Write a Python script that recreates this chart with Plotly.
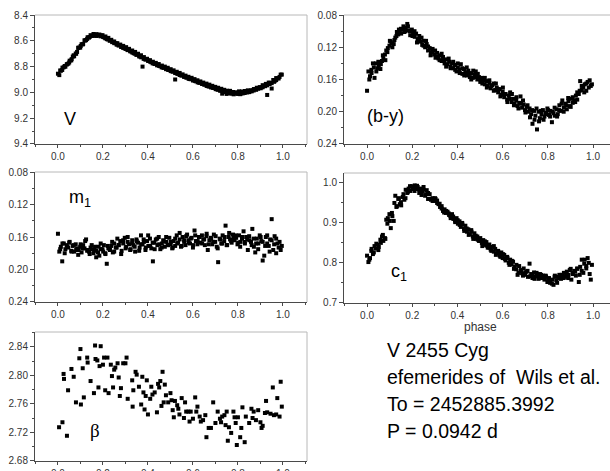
import plotly.graph_objects as go

# ---------------- data ----------------
phase = [0.000,0.006,0.013,0.019,0.026,0.033,0.039,0.046,0.052,0.059,
         0.066,0.072,0.079,0.085,0.092,0.099,0.105,0.112,0.118,0.125,
         0.132,0.138,0.145,0.151,0.158,0.165,0.171,0.178,0.184,0.191,
         0.198,0.204,0.211,0.217,0.224,0.231,0.237,0.244,0.250,0.257,
         0.264,0.270,0.277,0.283,0.290,0.297,0.303,0.310,0.316,0.323,
         0.330,0.336,0.343,0.349,0.356,0.363,0.369,0.376,0.382,0.389,
         0.396,0.402,0.409,0.415,0.422,0.429,0.435,0.442,0.448,0.455,
         0.462,0.468,0.475,0.481,0.488,0.495,0.501,0.508,0.514,0.521,
         0.528,0.534,0.541,0.547,0.554,0.561,0.567,0.574,0.580,0.587,
         0.594,0.600,0.607,0.613,0.620,0.627,0.633,0.640,0.646,0.653,
         0.660,0.666,0.673,0.679,0.686,0.693,0.699,0.706,0.712,0.719,
         0.726,0.732,0.739,0.745,0.752,0.759,0.765,0.772,0.778,0.785,
         0.792,0.798,0.805,0.811,0.818,0.825,0.831,0.838,0.844,0.851,
         0.858,0.864,0.871,0.877,0.884,0.891,0.897,0.904,0.910,0.917,
         0.924,0.930,0.937,0.943,0.950,0.957,0.963,0.970,0.976,0.990]

phase2 = [0.010,0.020,0.030,0.041,0.050,0.061,0.070,0.081,0.090,0.101,
          0.110,0.121,0.130,0.141,0.150,0.161,0.170,0.181,0.190,0.201,
          0.210,0.221,0.230,0.241,0.250,0.261,0.270,0.281,0.290,0.301,
          0.310,0.321,0.330,0.341,0.350,0.361,0.370,0.381,0.390,0.401,
          0.410,0.421,0.430,0.441,0.450,0.461,0.470,0.481,0.490,0.501,
          0.510,0.521,0.530,0.541,0.550,0.561,0.570,0.581,0.590,0.601,
          0.610,0.621,0.630,0.641,0.650,0.661,0.670,0.681,0.690,0.701,
          0.710,0.721,0.730,0.741,0.750,0.761,0.770,0.781,0.790,0.801,
          0.810,0.821,0.830,0.841,0.850,0.861,0.870,0.881,0.890,0.901,
          0.910,0.921,0.930,0.941,0.950,0.961,0.970,0.981,0.985,0.995]

V_mag = [8.855,8.866,8.832,8.826,8.805,8.801,8.784,8.777,8.754,8.752,
         8.722,8.720,8.699,8.686,8.652,8.653,8.626,8.624,8.596,8.594,
         8.572,8.575,8.556,8.562,8.547,8.556,8.548,8.557,8.551,8.559,
         8.556,8.572,8.566,8.586,8.577,8.598,8.592,8.608,8.605,8.619,
         8.618,8.634,8.629,8.647,8.639,8.658,8.649,8.670,8.662,8.682,
         8.675,8.695,8.686,8.708,8.700,8.721,8.712,8.800,8.726,8.744,
         8.739,8.754,8.750,8.766,8.762,8.776,8.771,8.788,8.780,8.797,
         8.792,8.806,8.800,8.818,8.809,8.826,8.820,8.835,8.829,8.900,
         8.840,8.856,8.849,8.867,8.860,8.876,8.870,8.885,8.879,8.896,
         8.887,8.905,8.897,8.914,8.906,8.923,8.915,8.931,8.924,8.939,
         8.932,8.949,8.940,8.958,8.949,8.965,8.957,8.974,8.964,8.981,
         8.972,8.990,8.980,8.996,8.987,9.002,8.988,9.006,8.997,9.006,
         8.999,9.008,8.992,9.010,8.993,9.002,8.989,8.998,8.984,8.993,
         8.984,8.984,8.974,8.974,8.964,8.966,8.959,8.961,8.944,8.950,
         8.934,9.020,8.924,8.926,8.970,8.904,8.911,8.889,8.891,8.862]

V_mag2 = [8.830,8.808,8.795,8.780,8.768,8.742,8.712,8.700,8.655,8.640,
          8.628,8.598,8.585,8.570,8.562,8.560,8.562,8.560,8.565,8.570,
          8.580,8.590,8.598,8.610,8.618,8.630,8.636,8.648,8.655,8.663,
          8.672,8.680,8.690,8.700,8.708,8.720,8.728,8.740,8.745,8.756,
          8.762,8.775,8.780,8.790,8.795,8.806,8.810,8.820,8.826,8.835,
          8.840,8.850,8.855,8.865,8.870,8.880,8.885,8.895,8.898,8.908,
          8.912,8.922,8.926,8.935,8.940,8.950,8.955,8.962,8.966,8.975,
          8.980,8.988,9.010,8.998,9.012,9.005,9.010,9.015,9.008,9.012,
          9.014,9.008,9.005,9.000,8.998,8.992,8.985,8.980,8.972,8.968,
          8.960,8.952,8.945,8.935,8.928,8.918,8.905,8.892,8.880,8.862]

b_y = [0.174,0.150,0.156,0.148,0.140,0.158,0.140,0.146,0.142,0.147,
       0.137,0.134,0.129,0.124,0.121,0.118,0.113,0.120,0.116,0.108,
       0.101,0.104,0.100,0.103,0.098,0.101,0.096,0.091,0.099,0.105,
       0.098,0.102,0.107,0.103,0.110,0.106,0.113,0.117,0.112,0.120,
       0.116,0.124,0.121,0.126,0.122,0.129,0.133,0.127,0.134,0.130,
       0.137,0.132,0.140,0.135,0.141,0.138,0.144,0.140,0.146,0.142,
       0.150,0.145,0.148,0.141,0.153,0.147,0.151,0.155,0.149,0.157,
       0.152,0.158,0.154,0.150,0.160,0.157,0.163,0.158,0.161,0.166,
       0.162,0.168,0.164,0.171,0.167,0.165,0.173,0.170,0.176,0.172,
       0.179,0.175,0.182,0.178,0.185,0.180,0.176,0.188,0.184,0.190,
       0.186,0.193,0.189,0.181,0.195,0.191,0.198,0.194,0.200,0.196,
       0.203,0.215,0.199,0.205,0.222,0.200,0.208,0.203,0.198,0.206,
       0.201,0.196,0.204,0.199,0.213,0.202,0.205,0.197,0.203,0.192,
       0.199,0.186,0.195,0.190,0.197,0.187,0.193,0.184,0.189,0.186,
       0.180,0.185,0.178,0.162,0.173,0.170,0.166,0.174,0.163,0.168]

b_y2 = [0.160,0.152,0.145,0.150,0.138,0.141,0.130,0.136,0.126,0.112,
        0.115,0.111,0.106,0.098,0.097,0.094,0.100,0.094,0.100,0.106,
        0.100,0.114,0.110,0.108,0.118,0.112,0.119,0.130,0.125,0.124,
        0.132,0.136,0.128,0.136,0.144,0.134,0.146,0.138,0.148,0.140,
        0.152,0.146,0.155,0.145,0.153,0.160,0.149,0.157,0.153,0.159,
        0.165,0.158,0.170,0.161,0.168,0.174,0.165,0.172,0.181,0.170,
        0.178,0.188,0.184,0.178,0.192,0.182,0.196,0.190,0.186,0.201,
        0.192,0.207,0.198,0.210,0.196,0.212,0.199,0.210,0.203,0.198,
        0.206,0.200,0.195,0.206,0.198,0.190,0.200,0.192,0.183,0.194,
        0.182,0.188,0.176,0.174,0.168,0.176,0.165,0.170,0.161,0.166]

m_1 = [0.156,0.178,0.172,0.190,0.168,0.175,0.170,0.173,0.166,0.177,
       0.171,0.178,0.169,0.174,0.176,0.172,0.179,0.170,0.174,0.163,
       0.176,0.178,0.173,0.175,0.180,0.172,0.177,0.179,0.183,0.175,
       0.175,0.170,0.181,0.193,0.174,0.176,0.171,0.179,0.168,0.173,
       0.162,0.170,0.165,0.177,0.168,0.161,0.172,0.166,0.169,0.175,
       0.164,0.170,0.178,0.163,0.167,0.173,0.158,0.169,0.166,0.176,
       0.165,0.171,0.162,0.174,0.190,0.167,0.163,0.170,0.160,0.175,
       0.168,0.164,0.172,0.166,0.170,0.161,0.169,0.174,0.165,0.171,
       0.158,0.167,0.163,0.172,0.160,0.166,0.170,0.157,0.164,0.168,
       0.161,0.173,0.152,0.165,0.169,0.160,0.167,0.158,0.163,0.170,
       0.159,0.176,0.164,0.161,0.169,0.157,0.166,0.172,0.191,0.162,
       0.168,0.158,0.165,0.146,0.170,0.160,0.163,0.167,0.157,0.164,
       0.161,0.169,0.158,0.166,0.162,0.153,0.168,0.160,0.176,0.164,
       0.166,0.150,0.172,0.179,0.162,0.168,0.158,0.165,0.189,0.183,
       0.160,0.168,0.171,0.163,0.138,0.176,0.159,0.180,0.168,0.176]

m_12 = [0.175,0.168,0.180,0.172,0.167,0.178,0.170,0.176,0.182,0.169,
        0.174,0.165,0.177,0.181,0.170,0.176,0.185,0.172,0.168,0.178,
        0.180,0.171,0.175,0.166,0.178,0.173,0.170,0.181,0.164,0.174,
        0.160,0.176,0.168,0.172,0.165,0.177,0.169,0.163,0.173,0.158,
        0.171,0.167,0.175,0.162,0.169,0.173,0.165,0.160,0.170,0.166,
        0.173,0.162,0.168,0.155,0.171,0.164,0.159,0.167,0.162,0.170,
        0.158,0.165,0.160,0.168,0.163,0.156,0.169,0.162,0.166,0.159,
        0.174,0.163,0.168,0.160,0.170,0.155,0.165,0.161,0.158,0.167,
        0.172,0.160,0.166,0.163,0.159,0.170,0.162,0.168,0.175,0.160,
        0.166,0.171,0.158,0.178,0.164,0.169,0.162,0.173,0.166,0.171]

c_1 = [0.818,0.802,0.812,0.830,0.822,0.842,0.836,0.846,0.840,0.858,
       0.866,0.855,0.862,0.908,0.912,0.922,0.887,0.917,0.905,0.968,
       0.942,0.960,0.947,0.944,0.965,0.958,0.983,0.975,0.986,0.980,
       0.992,0.988,0.994,0.985,0.990,0.975,0.986,0.978,0.990,0.968,
       0.982,0.960,0.972,0.958,0.962,0.955,0.960,0.950,0.947,0.940,
       0.936,0.930,0.934,0.925,0.928,0.920,0.917,0.922,0.910,0.906,
       0.912,0.898,0.904,0.890,0.896,0.885,0.893,0.878,0.884,0.872,
       0.878,0.866,0.874,0.860,0.866,0.855,0.862,0.850,0.857,0.845,
       0.852,0.838,0.846,0.833,0.840,0.828,0.835,0.824,0.830,0.818,
       0.826,0.812,0.820,0.806,0.815,0.800,0.808,0.796,0.803,0.790,
       0.784,0.770,0.792,0.780,0.774,0.786,0.770,0.778,0.765,0.798,
       0.772,0.762,0.776,0.766,0.770,0.760,0.772,0.762,0.768,0.758,
       0.766,0.752,0.762,0.755,0.748,0.745,0.768,0.756,0.765,0.770,
       0.760,0.768,0.775,0.765,0.778,0.770,0.782,0.758,0.775,0.780,
       0.768,0.785,0.752,0.790,0.808,0.775,0.808,0.792,0.812,0.758]

c_12 = [0.808,0.835,0.826,0.848,0.832,0.850,0.870,0.860,0.898,0.905,
        0.925,0.950,0.940,0.962,0.952,0.972,0.962,0.978,0.992,0.985,
        0.980,0.993,0.984,0.970,0.983,0.972,0.975,0.960,0.955,0.962,
        0.956,0.948,0.942,0.926,0.930,0.924,0.912,0.916,0.902,0.907,
        0.895,0.900,0.880,0.886,0.870,0.882,0.860,0.868,0.858,0.855,
        0.842,0.854,0.843,0.838,0.830,0.842,0.820,0.826,0.815,0.822,
        0.810,0.812,0.795,0.805,0.785,0.795,0.775,0.782,0.768,0.776,
        0.780,0.766,0.770,0.760,0.775,0.765,0.770,0.762,0.768,0.760,
        0.750,0.758,0.765,0.750,0.762,0.770,0.762,0.770,0.762,0.785,
        0.772,0.778,0.786,0.770,0.780,0.798,0.786,0.800,0.772,0.795]

beta_phase = [0.005,0.020,0.025,0.027,0.040,0.045,0.060,0.070,0.080,0.095,
              0.100,0.102,0.110,0.115,0.130,0.132,0.145,0.160,0.165,0.167,
              0.175,0.180,0.185,0.190,0.200,0.205,0.210,0.220,0.225,0.235,
              0.240,0.245,0.250,0.255,0.265,0.270,0.275,0.280,0.290,0.300,
              0.305,0.310,0.330,0.332,0.335,0.345,0.350,0.360,0.370,0.375,
              0.380,0.385,0.390,0.395,0.400,0.410,0.415,0.420,0.430,0.440,
              0.445,0.450,0.455,0.460,0.465,0.470,0.475,0.480,0.490,0.500,
              0.505,0.510,0.515,0.520,0.530,0.535,0.540,0.550,0.560,0.565,
              0.570,0.580,0.585,0.590,0.600,0.610,0.615,0.620,0.630,0.635,
              0.645,0.655,0.660,0.670,0.680,0.690,0.700,0.710,0.720,0.725,
              0.730,0.740,0.745,0.750,0.755,0.760,0.770,0.780,0.785,0.790,
              0.795,0.800,0.810,0.815,0.820,0.830,0.835,0.850,0.860,0.865,
              0.870,0.880,0.890,0.900,0.905,0.910,0.920,0.925,0.930,0.945,
              0.955,0.960,0.970,0.975,0.985,0.990,0.995]

beta = [2.727,2.734,2.802,2.795,2.715,2.779,2.809,2.798,2.762,2.824,
        2.837,2.759,2.810,2.769,2.825,2.818,2.792,2.775,2.842,2.823,
        2.821,2.783,2.813,2.841,2.815,2.825,2.779,2.825,2.775,2.815,
        2.799,2.783,2.808,2.811,2.817,2.797,2.771,2.782,2.817,2.817,
        2.825,2.767,2.793,2.756,2.779,2.805,2.801,2.784,2.759,2.798,
        2.776,2.752,2.771,2.793,2.745,2.767,2.784,2.773,2.776,2.748,
        2.788,2.783,2.792,2.757,2.805,2.762,2.787,2.772,2.762,2.775,
        2.765,2.751,2.741,2.764,2.758,2.753,2.745,2.768,2.740,2.762,
        2.749,2.749,2.735,2.749,2.739,2.769,2.749,2.756,2.742,2.735,
        2.737,2.744,2.713,2.726,2.726,2.762,2.733,2.749,2.739,2.734,
        2.742,2.744,2.730,2.749,2.708,2.727,2.719,2.749,2.741,2.733,
        2.702,2.741,2.713,2.726,2.755,2.706,2.742,2.733,2.753,2.740,
        2.749,2.737,2.751,2.734,2.726,2.729,2.747,2.764,2.748,2.746,
        2.783,2.744,2.745,2.768,2.742,2.791,2.756]

x_ticks = [0.0, 0.2, 0.4, 0.6, 0.8, 1.0]

# ---------------- layout helpers ----------------
W, H = 610, 471
FONT = "Liberation Sans, Arial, sans-serif"
AX = "#4a4a4a"
FRAME = "#b8b8b8"

def xd(a, b):
    return [a / W, min(b / W, 1.0)]

def yd(top, bottom):
    return [1 - bottom / H, 1 - top / H]

panels = [
    dict(xp=(35, 307), yp=(15, 144), xr=[-0.102, 1.107], yr=[9.4005, 8.3995],
         dt=0.2, t0=8.4, fmt=".1f", sets=[(phase, V_mag), (phase2, V_mag2)], right=True),
    dict(xp=(344, 610), yp=(15, 144), xr=[-0.102, 1.075], yr=[0.2401, 0.0799],
         dt=0.04, t0=0.08, fmt=".2f", sets=[(phase, b_y), (phase2, b_y2)], right=False),
    dict(xp=(35, 307), yp=(172, 302), xr=[-0.102, 1.107], yr=[0.2401, 0.0799],
         dt=0.04, t0=0.08, fmt=".2f", sets=[(phase, m_1), (phase2, m_12)], right=True),
    dict(xp=(344, 610), yp=(173, 303), xr=[-0.102, 1.075], yr=[0.6995, 1.025],
         dt=0.1, t0=0.7, fmt=".1f", sets=[(phase, c_1), (phase2, c_12)], right=False),
    dict(xp=(35, 307), yp=(332, 461), xr=[-0.102, 1.107], yr=[2.6795, 2.861],
         dt=0.04, t0=2.68, fmt=".2f", sets=[(beta_phase, beta)], right=True),
]

fig = go.Figure()
layout = dict(width=W, height=H, margin=dict(l=0, r=0, t=0, b=0, autoexpand=False),
              paper_bgcolor="white", plot_bgcolor="white", showlegend=False,
              font=dict(family=FONT, size=10, color="#333"))
shapes = []

for i, p in enumerate(panels, start=1):
    sfx = "" if i == 1 else str(i)
    for xs, ys in p["sets"]:
        fig.add_trace(go.Scatter(x=xs, y=ys, mode="markers",
                                 marker=dict(symbol="square", size=4, color="black",
                                             line=dict(width=0)),
                                 xaxis="x" + sfx, yaxis="y" + sfx))
    layout["xaxis" + sfx] = dict(
        domain=xd(*p["xp"]), range=p["xr"], anchor="y" + sfx, automargin=False,
        tickvals=x_ticks, tickformat=".1f", ticks="outside", ticklen=3,
        tickcolor=AX, showline=True, linecolor=AX, linewidth=1,
        showgrid=False, zeroline=False,
        minor=dict(dtick=0.1, tick0=0, ticks="outside", ticklen=2, tickcolor=AX),
        tickfont=dict(family=FONT, size=10, color="#333"))
    layout["yaxis" + sfx] = dict(
        domain=yd(*p["yp"]), range=p["yr"], anchor="x" + sfx, automargin=False,
        dtick=p["dt"], tick0=p["t0"], tickformat=p["fmt"], ticks="outside",
        ticklen=4, tickcolor=AX, showline=True, linecolor=AX, linewidth=1,
        showgrid=False, zeroline=False,
        minor=dict(dtick=p["dt"] / 2, tick0=p["t0"], ticks="outside", ticklen=2,
                   tickcolor=AX),
        tickfont=dict(family=FONT, size=10, color="#333"))
    shapes.append(dict(type="line", xref="x" + sfx + " domain", yref="y" + sfx + " domain",
                       x0=0, x1=1, y0=1, y1=1, line=dict(color=FRAME, width=1)))
    if p["right"]:
        shapes.append(dict(type="line", xref="x" + sfx + " domain", yref="y" + sfx + " domain",
                           x0=1, x1=1, y0=0, y1=1, line=dict(color=FRAME, width=1)))

layout["shapes"] = shapes

lab = dict(family=FONT, size=18, color="black")
annotations = [
    dict(text="V", x=0.053, y=9.21, xref="x", yref="y", showarrow=False, font=lab),
    dict(text="(b-y)", x=0.08, y=0.205, xref="x2", yref="y2", showarrow=False, font=lab),
    dict(text="m<sub>1</sub>", x=0.1, y=0.112, xref="x3", yref="y3", showarrow=False, font=lab),
    dict(text="c<sub>1</sub>", x=0.14, y=0.775, xref="x4", yref="y4", showarrow=False, font=lab),
    dict(text="β", x=0.164, y=2.722, xref="x5", yref="y5", showarrow=False,
         font=dict(family="Liberation Serif, Times New Roman, serif", size=19, color="black")),
    dict(text="phase", x=480 / W, y=1 - 327 / H, xref="paper", yref="paper",
         xanchor="center", yanchor="middle",
         showarrow=False, font=dict(family=FONT, size=12, color="#333")),
]
info_lines = ["V 2455 Cyg", "efemerides of&nbsp; Wils et al.", "To = 2452885.3992", "P = 0.0942 d"]
info_y = [350, 377, 404, 431]
for t, yy in zip(info_lines, info_y):
    annotations.append(dict(text=t, x=385 / W, y=1 - yy / H, xref="paper", yref="paper",
                            xanchor="left", yanchor="middle", showarrow=False,
                            font=dict(family=FONT, size=19.5, color="black")))
layout["annotations"] = annotations

fig.update_layout(**layout)
fig.write_html("out.html")
